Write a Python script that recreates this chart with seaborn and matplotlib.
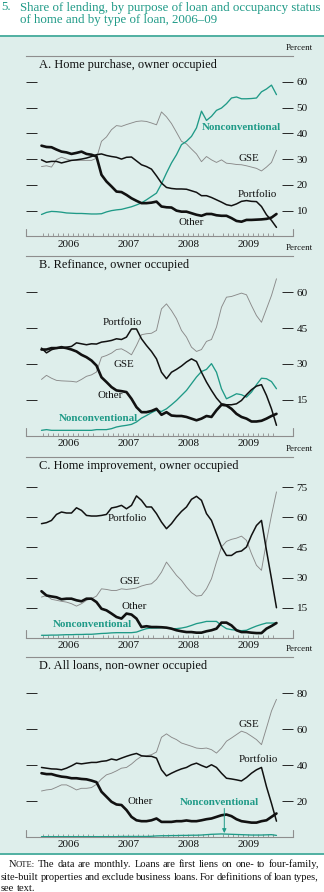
import numpy as np
import pandas as pd
import matplotlib
matplotlib.use("Agg")
import matplotlib.pyplot as plt
import seaborn as sns
from matplotlib.lines import Line2D
from matplotlib.patches import Rectangle
from matplotlib.ticker import FixedLocator
from matplotlib.transforms import blended_transform_factory

# ---------------------------------------------------------------- data
months = pd.date_range("2006-01-01", periods=48, freq="MS")
years = [2006, 2007, 2008, 2009]

# A. Home purchase, owner occupied
purchase_gse = [27.1, 27.4, 26.9, 29.8, 30.7, 30.0, 29.5, 29.5, 29.5, 29.5, 29.5, 30.3,
                36.9, 38.6, 41.4, 43.0, 42.7, 43.4, 44.0, 44.6, 44.8, 44.6, 44.0, 43.3,
                48.3, 46.4, 43.8, 40.4, 36.9, 35.9, 33.9, 32.0, 29.0, 31.0, 29.7, 28.7,
                29.7, 28.4, 28.2, 27.9, 27.8, 27.4, 26.9, 26.4, 25.4, 26.9, 28.7, 33.4]
purchase_portfolio = [29.7, 28.8, 29.1, 29.1, 28.5, 29.0, 29.5, 29.7, 30.0, 30.4, 31.0, 31.7,
                      32.0, 31.4, 31.0, 30.7, 30.0, 30.7, 30.8, 29.3, 27.8, 27.1, 26.1, 23.5,
                      20.7, 19.0, 18.6, 18.4, 18.4, 18.3, 17.7, 17.1, 15.8, 15.8, 15.1, 14.2,
                      13.3, 12.3, 11.9, 12.6, 13.6, 13.9, 13.6, 13.5, 11.6, 8.4, 6.2, 3.5]
purchase_other = [35.2, 34.7, 34.6, 33.7, 32.9, 32.6, 32.0, 32.4, 32.9, 32.0, 31.7, 31.0,
                  23.9, 21.3, 19.4, 17.4, 17.2, 16.1, 14.8, 13.8, 12.9, 12.9, 13.1, 13.5,
                  11.6, 11.3, 11.2, 10.0, 9.6, 9.6, 9.0, 8.4, 8.0, 8.7, 8.7, 8.2,
                  8.0, 8.0, 7.1, 6.0, 5.7, 6.4, 6.4, 6.5, 6.6, 6.8, 7.3, 8.7]
purchase_noncon = [8.5, 9.3, 9.7, 9.6, 9.4, 9.1, 9.0, 8.9, 8.9, 8.8, 8.7, 8.7,
                   8.8, 9.5, 10.0, 10.3, 10.5, 11.0, 11.5, 12.2, 13.0, 14.2, 15.5, 16.8,
                   20.4, 24.6, 28.5, 31.7, 35.6, 36.9, 38.8, 42.1, 48.6, 45.0, 46.6, 48.9,
                   49.8, 51.5, 53.7, 54.1, 53.4, 53.4, 53.5, 53.7, 56.1, 57.2, 58.7, 55.0]

# B. Refinance, owner occupied
refi_gse = [23.5, 25.2, 24.0, 23.1, 22.9, 22.8, 22.7, 22.4, 23.5, 24.8, 25.4, 26.6,
            32.8, 33.5, 34.5, 36.0, 36.3, 35.2, 33.8, 37.7, 42.2, 42.6, 42.8, 44.0,
            53.0, 55.1, 52.3, 48.9, 44.0, 41.2, 37.0, 35.2, 36.0, 39.4, 40.2, 45.4,
            53.7, 57.9, 58.2, 58.9, 59.6, 58.9, 54.4, 50.2, 47.4, 53.0, 58.6, 65.6]
refi_portfolio = [36.6, 34.6, 35.9, 36.6, 36.6, 37.0, 37.3, 38.8, 38.4, 38.0, 38.4, 38.3,
                  39.1, 39.4, 39.8, 40.5, 40.2, 41.2, 44.6, 44.6, 40.5, 37.7, 35.2, 32.1,
                  26.5, 23.8, 26.5, 27.7, 29.1, 30.8, 32.1, 31.0, 26.5, 22.4, 18.9, 15.7,
                  13.3, 12.9, 12.9, 13.3, 14.7, 17.1, 19.2, 20.7, 21.3, 16.8, 11.2, 4.3]
refi_other = [36.0, 36.0, 36.6, 36.6, 37.0, 36.6, 36.0, 35.2, 33.8, 32.8, 31.4, 29.3,
              24.4, 22.4, 20.3, 18.9, 18.6, 18.2, 15.4, 11.9, 9.8, 9.8, 10.3, 11.2,
              8.7, 9.8, 8.4, 8.2, 8.2, 7.8, 7.1, 6.4, 7.1, 8.2, 7.8, 10.6,
              12.9, 12.6, 11.2, 9.1, 7.8, 7.1, 5.9, 5.9, 6.2, 7.1, 8.2, 9.1]
refi_noncon = [2.2, 2.5, 2.2, 2.2, 2.2, 2.2, 2.2, 2.2, 2.2, 2.2, 2.2, 2.5,
               2.5, 2.5, 2.9, 3.6, 4.0, 4.3, 4.7, 5.7, 7.3, 8.4, 9.6, 10.6,
               10.1, 11.2, 12.9, 14.7, 16.8, 18.9, 21.7, 24.5, 26.8, 27.7, 30.1, 26.5,
               19.6, 15.4, 16.4, 17.5, 17.1, 16.1, 18.2, 21.3, 24.0, 23.8, 22.6, 19.6]

# C. Home improvement, owner occupied
improve_gse = [20.3, 21.1, 19.2, 18.7, 18.2, 17.8, 17.0, 15.8, 17.0, 18.7, 19.5, 20.8,
               24.4, 24.1, 23.6, 23.6, 24.4, 24.1, 24.4, 24.8, 25.8, 26.5, 26.9, 29.1,
               32.7, 37.7, 34.4, 31.1, 28.6, 25.3, 22.5, 20.8, 21.1, 24.4, 29.4, 37.7,
               45.2, 48.0, 49.0, 49.6, 50.6, 48.5, 41.9, 36.1, 33.6, 48.0, 61.0, 72.6]
improve_portfolio = [56.8, 57.3, 58.4, 61.4, 62.6, 62.1, 62.1, 64.7, 63.4, 60.9, 60.6, 60.6,
                     60.9, 61.4, 64.6, 65.1, 65.9, 64.2, 65.9, 70.6, 68.4, 65.1, 65.1, 61.8,
                     57.6, 54.3, 56.8, 60.1, 62.9, 65.1, 68.9, 70.4, 68.4, 61.8, 58.4, 51.8,
                     45.2, 41.0, 41.0, 42.7, 43.2, 45.2, 51.0, 55.9, 58.4, 43.5, 29.4, 15.0]
improve_other = [23.2, 21.1, 20.6, 20.2, 19.2, 19.5, 19.5, 18.7, 18.2, 19.5, 19.5, 17.8,
                 14.5, 13.7, 12.1, 10.4, 9.6, 12.1, 11.6, 9.6, 5.4, 5.8, 5.4, 5.4,
                 5.3, 5.1, 4.6, 3.8, 3.3, 2.9, 2.9, 2.6, 2.6, 3.3, 3.8, 4.6,
                 7.6, 7.6, 6.2, 3.8, 2.9, 2.9, 2.6, 2.4, 2.4, 4.6, 5.9, 7.4]
improve_noncon = [1.3, 1.3, 1.4, 1.4, 1.5, 1.6, 1.6, 1.7, 1.7, 1.8, 1.8, 2.0,
                  2.2, 2.3, 2.5, 2.6, 2.6, 2.6, 2.6, 2.9, 3.8, 4.6, 4.9, 4.9,
                  5.1, 5.1, 4.6, 4.6, 4.9, 5.4, 6.2, 7.1, 7.6, 8.2, 8.2, 8.2,
                  6.2, 4.6, 4.1, 3.8, 3.6, 3.8, 4.9, 5.9, 6.7, 7.4, 7.4, 7.4]

# D. All loans, non-owner occupied
nonowner_gse = [25.6, 26.2, 26.5, 27.7, 29.0, 29.0, 27.7, 26.2, 27.1, 27.1, 27.5, 29.3,
                32.3, 34.6, 35.5, 36.8, 38.3, 38.7, 40.6, 43.0, 44.9, 45.2, 45.8, 47.3,
                55.5, 57.4, 55.5, 54.2, 52.3, 51.4, 50.5, 49.5, 49.2, 49.5, 48.6, 46.7,
                49.5, 53.3, 55.1, 57.0, 58.9, 57.9, 56.1, 54.2, 51.4, 60.7, 70.1, 76.6]
nonowner_portfolio = [38.7, 38.3, 37.9, 37.8, 37.4, 38.3, 39.6, 41.1, 40.7, 41.1, 41.5, 41.5,
                      42.1, 42.4, 43.4, 42.8, 43.9, 44.9, 45.8, 46.5, 45.2, 44.9, 44.9, 43.9,
                      37.4, 34.0, 35.5, 36.8, 37.9, 38.7, 40.2, 41.1, 39.8, 38.7, 40.2, 38.7,
                      35.5, 32.7, 32.3, 31.8, 31.2, 33.1, 35.5, 37.4, 38.7, 28.0, 18.7, 8.8]
nonowner_other = [35.5, 35.0, 35.0, 34.2, 33.6, 33.3, 32.7, 32.7, 32.3, 32.1, 31.4, 30.5,
                  25.2, 22.4, 19.6, 18.1, 17.8, 15.0, 11.2, 9.3, 8.8, 8.8, 9.3, 10.3,
                  8.4, 8.4, 8.4, 8.8, 8.8, 9.2, 8.8, 8.8, 9.3, 9.9, 10.3, 11.2,
                  12.1, 12.5, 11.6, 9.9, 8.8, 8.4, 8.0, 8.0, 8.8, 9.3, 11.2, 13.1]
nonowner_noncon = [0.2, 0.2, 0.2, 0.2, 0.2, 0.2, 0.2, 0.2, 0.2, 0.2, 0.2, 0.2,
                   0.2, 0.2, 0.2, 0.2, 0.3, 0.3, 0.3, 0.3, 0.3, 0.3, 0.4, 0.6,
                   0.7, 0.7, 0.8, 0.8, 0.9, 0.9, 1.0, 1.0, 1.1, 1.3, 1.5, 1.6,
                   1.7, 1.6, 1.5, 1.4, 1.3, 1.2, 1.1, 1.1, 1.1, 1.2, 1.3, 0.9]

panel_titles = ["A. Home purchase, owner occupied",
                "B. Refinance, owner occupied",
                "C. Home improvement, owner occupied",
                "D. All loans, non-owner occupied"]
panel_yticks = [[10, 20, 30, 40, 50, 60],
                [15, 30, 45, 60],
                [15, 30, 45, 60, 75],
                [20, 40, 60, 80]]
panel_ymax = [70, 75, 90, 100]

# ---------------------------------------------------------------- style
W, H, DPI = 324, 892, 100
TEAL = "#1f9a87"
TEAL_TICK = "#86c9bd"
GRAY = "#8e8e8e"
GSE_GRAY = "#8a8a8a"
BG = "#deeeeb"
INK = "#111111"

sns.set_theme(style="white")
plt.rcParams["font.family"] = ["Liberation Serif", "DejaVu Serif"]
plt.rcParams["axes.unicode_minus"] = False

# fractional-year position of each month (plotted mid-month)
xpos = months.year + (months.month - 1 + 0.6) / 12.0
X0, X1 = 2005.787, 2010.242

fig = plt.figure(figsize=(W / DPI, H / DPI), dpi=DPI, facecolor="white")
renderer = fig.canvas.get_renderer()

# shaded chart area and teal rules
fig.patches.append(Rectangle((0, 1 - 853.0 / H), 1, (853.0 - 36.5) / H,
                             transform=fig.transFigure, facecolor=BG,
                             edgecolor="none", zorder=-10))
for yy in (36.0, 853.5):
    fig.add_artist(Line2D([0, 1], [1 - yy / H] * 2, transform=fig.transFigure,
                          color=TEAL, lw=1.1, zorder=-5))

# figure title, sized so the first line runs to the right edge
title_kw = dict(color=TEAL, fontsize=9.5, va="center", ha="left")
fig.text(1.0 / W, 1 - 7.5 / H, "5.", **title_kw)
t1 = fig.text(20.0 / W, 1 - 7.5 / H,
              "Share of lending, by purpose of loan and occupancy status", **title_kw)
t2 = fig.text(20.0 / W, 1 - 20.5 / H, "of home and by type of loan, 2006\u201309", **title_kw)
w1 = t1.get_window_extent(renderer).width
fs_title = 9.5 * 302.0 / w1
for t in fig.texts:
    t.set_fontsize(fs_title)

# panel frames in pixels (top, bottom)
frames = [(56.0, 236.4), (256.3, 435.6), (456.9, 637.9), (657.3, 837.0)]
LEFT, RIGHT = 25.7, 293.0

series_sets = [
    (purchase_gse, purchase_noncon, purchase_portfolio, purchase_other),
    (refi_gse, refi_noncon, refi_portfolio, refi_other),
    (improve_gse, improve_noncon, improve_portfolio, improve_other),
    (nonowner_gse, nonowner_noncon, nonowner_portfolio, nonowner_other),
]

# label placement (x in years, y in percent)
label_pos = [
    {"Nonconventional": (2009.387, 42.3), "GSE": (2009.513, 30.4),
     "Portfolio": (2009.647, 16.1), "Other": (2008.542, 5.3)},
    {"Portfolio": (2007.403, 47.5), "GSE": (2007.430, 29.6),
     "Other": (2007.203, 16.8), "Nonconventional": (2006.997, 7.1)},
    {"Portfolio": (2007.480, 59.3), "GSE": (2007.525, 27.8),
     "Other": (2007.592, 15.7), "Nonconventional": (2006.903, 6.6)},
    {"GSE": (2009.513, 62.6), "Portfolio": (2009.663, 43.0),
     "Other": (2007.703, 20.0), "Nonconventional": (2009.008, 19.2)},
]

minor_months = [2006 + k / 12.0 for k in range(1, 48) if k % 12 != 0]

for i, (top, bottom) in enumerate(frames):
    ax = fig.add_axes([LEFT / W, 1 - bottom / H, (RIGHT - LEFT) / W, (bottom - top) / H])
    ax.set_facecolor("none")
    ax.set_zorder(2)
    gse, noncon, portfolio, other = series_sets[i]

    sns.lineplot(x=xpos, y=gse, ax=ax, color=GSE_GRAY, linewidth=0.65, zorder=3)
    sns.lineplot(x=xpos, y=noncon, ax=ax, color=TEAL, linewidth=0.95, zorder=4)
    sns.lineplot(x=xpos, y=portfolio, ax=ax, color=INK, linewidth=1.1, zorder=5)
    sns.lineplot(x=xpos, y=other, ax=ax, color=INK, linewidth=1.9, zorder=6)

    ax.set_xlim(X0, X1)
    ax.set_ylim(0, panel_ymax[i])
    ax.set_xlabel("")
    ax.set_ylabel("")

    # y ticks: teal marks on the left, gray marks + labels on the right
    ax.set_yticks(panel_yticks[i])
    ax.yaxis.set_ticks_position("both")
    ax.tick_params(axis="y", which="major", direction="in", length=8, width=0.7,
                   labelleft=False, labelright=True, pad=2.5, labelsize=8.1,
                   labelcolor=INK)
    for t in ax.yaxis.get_major_ticks():
        t.tick1line.set_color(TEAL_TICK)
        t.tick2line.set_color(GRAY)

    # x ticks: year boundaries and monthly minor marks
    ax.set_xticks(range(2006, 2011))
    ax.xaxis.set_minor_locator(FixedLocator(minor_months))
    ax.tick_params(axis="x", which="major", direction="in", length=4.2, width=0.7,
                   color=GRAY, labelbottom=False)
    ax.tick_params(axis="x", which="minor", direction="in", length=2.0, width=0.6,
                   color=GRAY, bottom=True)
    trans = blended_transform_factory(ax.transData, ax.transAxes)
    for yr in years:
        ax.annotate(str(yr), xy=(yr + 0.5, 0), xycoords=trans, xytext=(0, -5.6),
                    textcoords="offset points", ha="center", va="center",
                    fontsize=8.1, color=INK)

    for side in ("left", "right"):
        ax.spines[side].set_visible(False)
    for side in ("top", "bottom"):
        ax.spines[side].set_visible(True)
        ax.spines[side].set_color(GRAY)
        ax.spines[side].set_linewidth(0.8)
    # end marks on the time axis
    for xe in (0.0, 1.0):
        ax.plot([xe, xe], [0, 7.5 / (bottom - top)], transform=ax.transAxes,
                color=GRAY, lw=0.8, clip_on=False, zorder=2)

    ax.annotate("Percent", xy=(1, 1), xycoords="axes fraction", xytext=(14.2, 5.8),
                textcoords="offset points", ha="right", va="center", fontsize=6.4,
                color=INK)
    ax.annotate(panel_titles[i], xy=(0, 1), xycoords="axes fraction",
                xytext=(9.8, -6.2), textcoords="offset points", ha="left",
                va="center", fontsize=8.9, color=INK)

    for name, (lx, ly) in label_pos[i].items():
        if name == "Nonconventional":
            ax.text(lx, ly, name, ha="center", va="center", fontsize=7.9,
                    fontweight="bold", color=TEAL, zorder=7)
        else:
            ax.text(lx, ly, name, ha="center", va="center", fontsize=7.9,
                    color=INK, zorder=7)

    if i == 3:
        ax.annotate("", xy=(2009.097, 2.2), xytext=(2009.097, 15.9),
                    arrowprops=dict(arrowstyle="-|>", color=TEAL, lw=0.7,
                                    mutation_scale=6, shrinkA=0, shrinkB=0),
                    zorder=7)

# ---------------------------------------------------------------- note
NOTE_SIZE = 7.6


def set_words(words, x0, x1, baseline, justify=True):
    """Place word fragments along one line, spreading them to fill x0..x1."""
    placed = []
    widths = []
    for frags in words:
        arts = []
        total = 0.0
        for txt, fs in frags:
            t = fig.text(0, 0, txt, fontsize=fs, va="baseline", ha="left", color=INK)
            w = t.get_window_extent(renderer).width
            arts.append((t, w))
            total += w
        placed.append(arts)
        widths.append(total)
    if justify and len(words) > 1:
        gap = (x1 - x0 - sum(widths)) / (len(words) - 1)
    else:
        gap = NOTE_SIZE * 0.25 * DPI / 72.0
    x = x0
    for arts, total in zip(placed, widths):
        for t, w in arts:
            t.set_position((x / W, 1 - baseline / H))
            x += w
        x += gap


line1 = "The data are monthly. Loans are first liens on one- to four-family,".split()
line2 = ("site-built properties and exclude business loans. For definitions "
         "of loan types,").split()
line3 = "see text.".split()

set_words([[("N", NOTE_SIZE), ("OTE:", NOTE_SIZE * 0.8)]] + [[(w, NOTE_SIZE)] for w in line1],
          8.3, 319.0, 867.0)
set_words([[(w, NOTE_SIZE)] for w in line2], 1.0, 319.0, 879.5)
set_words([[(w, NOTE_SIZE)] for w in line3], 1.0, 319.0, 891.0, justify=False)

fig.savefig("out.png", dpi=DPI, facecolor="white")
